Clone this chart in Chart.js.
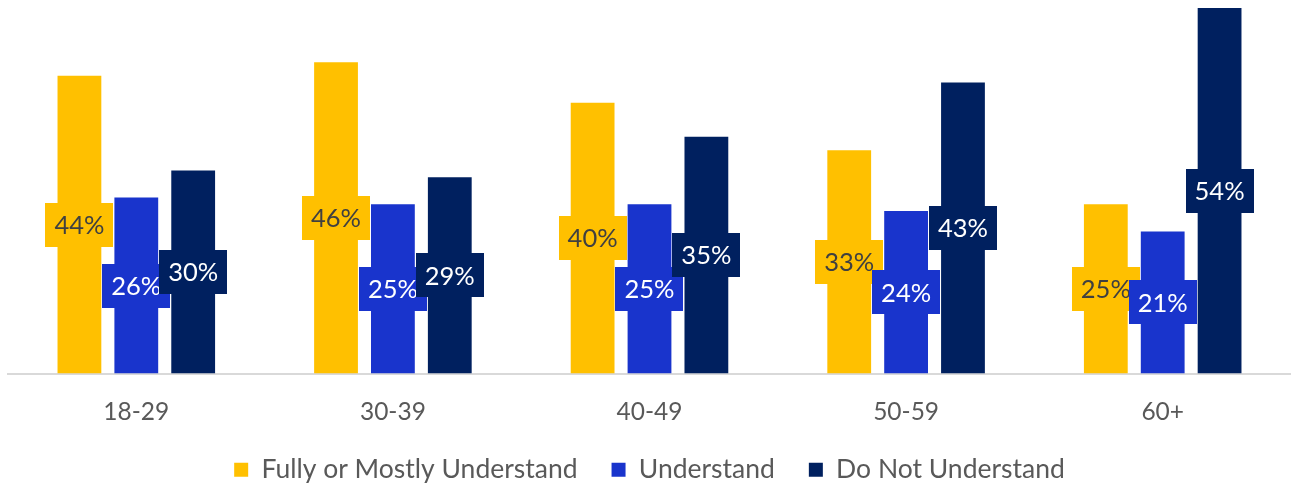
<!DOCTYPE html>
<html>
<head>
<meta charset="utf-8">
<script src="https://cdn.jsdelivr.net/npm/chart.js@4"></script>
<style>
  html, body { margin: 0; padding: 0; background: #fff; }
  #wrap { width: 1291px; height: 487px; position: relative; }
</style>
</head>
<body>
<div id="wrap"><canvas id="c"></canvas></div>
<script>
// Age groups on the x axis
const ageGroups = ['18-29', '30-39', '40-49', '50-59', '60+'];

// Share of respondents (%) per understanding level
const fullyOrMostly = [44, 46, 40, 33, 25];
const understand = [26, 25, 25, 24, 21];
const doNotUnderstand = [30, 29, 35, 43, 54];

const seriesNames = ['Fully or Mostly Understand', 'Understand', 'Do Not Understand'];
const seriesColors = ['#FFC000', '#1934CC', '#00205F'];
const labelTextColors = ['#404040', '#FFFFFF', '#FFFFFF'];

const FONT = 'Lato, "Open Sans", sans-serif';

// Draws each value inside a filled box at the middle of its bar
const valueBoxes = {
  id: 'valueBoxes',
  afterDatasetsDraw(chart) {
    const ctx = chart.ctx;
    ctx.save();
    ctx.font = '25.5px ' + FONT;
    ctx.textAlign = 'center';
    ctx.textBaseline = 'middle';
    chart.data.datasets.forEach((ds, di) => {
      const meta = chart.getDatasetMeta(di);
      meta.data.forEach((bar, i) => {
        const text = ds.data[i] + '%';
        const w = ctx.measureText(text).width + 18;
        const h = 44;
        const cx = bar.x;
        const cy = (bar.y + bar.base) / 2;
        ctx.fillStyle = seriesColors[di];
        ctx.fillRect(Math.round(cx - w / 2), Math.round(cy - h / 2), Math.round(w), h);
        ctx.fillStyle = labelTextColors[di];
        ctx.fillText(text, cx, cy + 1);
      });
    });
    ctx.restore();
  }
};

new Chart(document.getElementById('c'), {
  type: 'bar',
  data: {
    labels: ageGroups,
    datasets: [
      { label: seriesNames[0], data: fullyOrMostly, backgroundColor: seriesColors[0] },
      { label: seriesNames[1], data: understand, backgroundColor: seriesColors[1] },
      { label: seriesNames[2], data: doNotUnderstand, backgroundColor: seriesColors[2] }
    ]
  },
  options: {
    responsive: true,
    maintainAspectRatio: false,
    animation: false,
    layout: { padding: { left: 8, right: 0, top: 0, bottom: -6 } },
    datasets: {
      bar: { categoryPercentage: 0.665, barPercentage: 0.77 }
    },
    scales: {
      x: {
        grid: { display: false, drawTicks: false },
        border: { display: true, color: '#D9D9D9', width: 2 },
        ticks: { color: '#595959', font: { family: FONT, size: 24.5 }, padding: 24 },
        afterFit(scale) { scale.height = 49; }
      },
      y: {
        display: false,
        min: 0,
        max: 55.2
      }
    },
    plugins: {
      legend: {
        position: 'bottom',
        labels: {
          color: '#595959',
          font: { family: FONT, size: 26.5 },
          boxWidth: 14,
          boxHeight: 14,
          padding: 34
        }
      },
      tooltip: { enabled: false }
    }
  },
  plugins: [valueBoxes]
});
</script>
</body>
</html>
